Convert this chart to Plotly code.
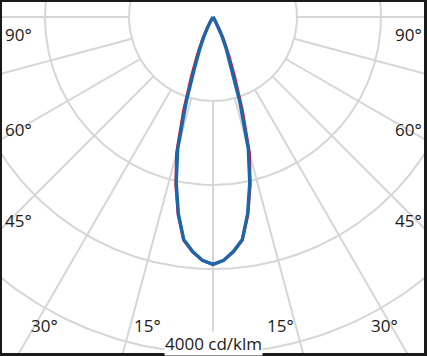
import numpy as np
import plotly.graph_objects as go

# Gamma angles (deg from nadir) and luminous intensity (cd/klm)
gamma = [0, 2.5, 5, 7.5, 10, 12.5, 15, 17.5, 20, 22.5, 25, 27.5, 30, 32.5, 35, 40, 50, 60, 70, 80, 90]
i_c0_180 = [2945, 2900, 2805, 2680, 2390, 2045, 1675, 1160, 740, 480, 300, 150, 54, 12, 0, 0, 0, 0, 0, 0, 0]
i_c90_270 = [2945, 2900, 2800, 2670, 2375, 2020, 1620, 1060, 630, 405, 258, 132, 46, 10, 0, 0, 0, 0, 0, 0, 0]

ring_values = [1000, 2000, 3000, 4000, 5000]
spoke_angles = list(range(-180, 180, 15))
angle_labels_side = ["90°", "60°", "45°"]
angle_labels_bottom = ["30°", "15°", "15°", "30°"]
scale_label = "4000 cd/klm"


def lobe_xy(g, vals):
    g = np.radians(np.array(g, dtype=float))
    v = np.array(vals, dtype=float)
    gr = np.concatenate([-g[::-1], g[1:]])
    vr = np.concatenate([v[::-1], v[1:]])
    return vr * np.sin(gr), -vr * np.cos(gr)


grid_x, grid_y = [], []
t = np.linspace(0, 2 * np.pi, 361)
for rv in ring_values:
    grid_x += list(rv * np.sin(t)) + [None]
    grid_y += list(-rv * np.cos(t)) + [None]
for a in spoke_angles:
    ar = np.radians(a)
    r0, r1 = ring_values[0], 8000
    grid_x += [r0 * np.sin(ar), r1 * np.sin(ar), None]
    grid_y += [-r0 * np.cos(ar), -r1 * np.cos(ar), None]

fig = go.Figure()
fig.add_trace(go.Scatter(x=grid_x, y=grid_y, mode="lines",
                         line=dict(color="#d6d6d6", width=2), hoverinfo="skip"))
rx, ry = lobe_xy(gamma, i_c0_180)
fig.add_trace(go.Scatter(x=rx, y=ry, mode="lines", name="C0-C180",
                         line=dict(color="#d4163c", width=3)))
bx, by = lobe_xy(gamma, i_c90_270)
fig.add_trace(go.Scatter(x=bx, y=by, mode="lines", name="C90-C270",
                         line=dict(color="#1a68ac", width=3.3)))

font = dict(family="Open Sans", size=17, color="#1a1a1a")
ann = []
side_y = [-214, -1345, -2423]
for lab, yy in zip(angle_labels_side, side_y):
    ann.append(dict(x=-2315, y=yy, text=lab, showarrow=False, font=font,
                    xanchor="center", yanchor="middle"))
    ann.append(dict(x=2333, y=yy, text=lab, showarrow=False, font=font,
                    xanchor="center", yanchor="middle"))
for lab, xx in zip(angle_labels_bottom, [-2006, -780, 804, 2036]):
    ann.append(dict(x=xx, y=-3667, text=lab, showarrow=False, font=font,
                    xanchor="center", yanchor="middle"))
ann.append(dict(x=6, y=-3885, text=scale_label, showarrow=False, font=font,
                xanchor="center", yanchor="middle", bgcolor="white", borderpad=0))

fig.update_layout(
    width=427, height=356,
    margin=dict(l=2, r=3, t=2, b=3),
    paper_bgcolor="#1a1a1a", plot_bgcolor="white",
    showlegend=False,
    xaxis=dict(range=[-211 / 0.084, 211 / 0.084], visible=False, showgrid=False, zeroline=False),
    yaxis=dict(range=[-4000, 15 / 0.084], visible=False, showgrid=False, zeroline=False),
    annotations=ann,
)
fig.write_html("out.html", config={"displayModeBar": False},
               post_script="document.body.style.margin='0';document.body.style.overflow='hidden';")
